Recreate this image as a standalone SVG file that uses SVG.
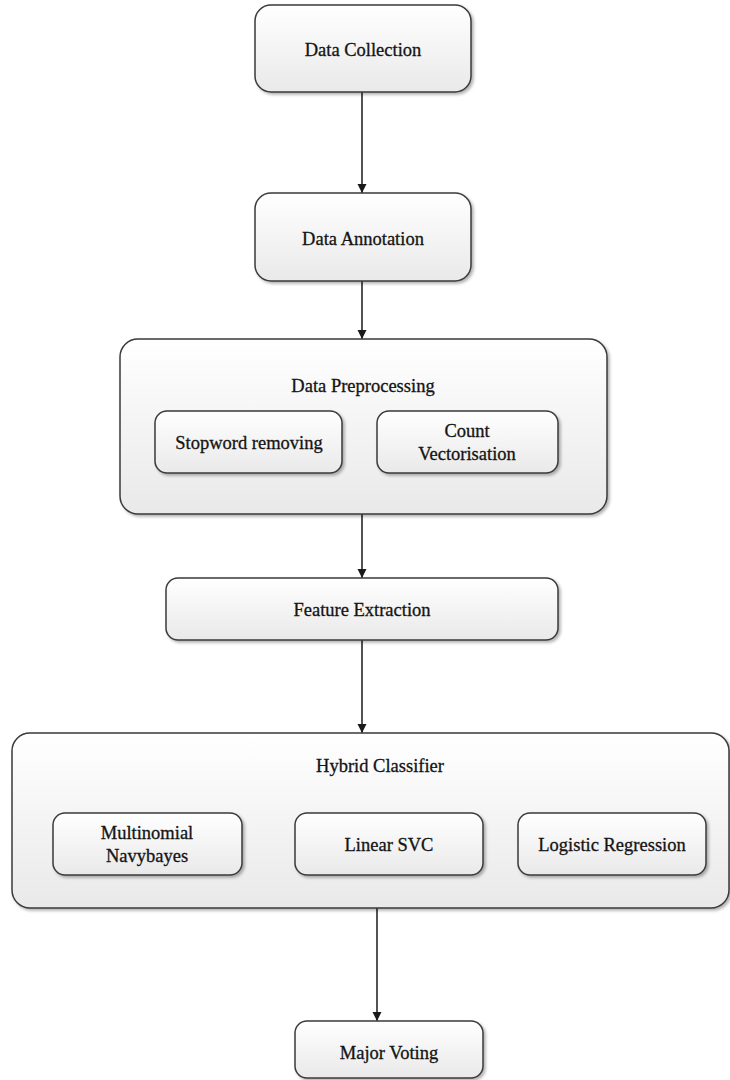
<svg xmlns="http://www.w3.org/2000/svg" width="730" height="1080" viewBox="0 0 730 1080">
  <defs>
    <linearGradient id="boxFill" x1="0" y1="0" x2="0" y2="1">
      <stop offset="0" stop-color="#ffffff"/>
      <stop offset="1" stop-color="#e9e9e9"/>
    </linearGradient>
    <filter id="shadow" x="-5%" y="-5%" width="115%" height="120%">
      <feDropShadow dx="2" dy="2" stdDeviation="1.5" flood-color="#000" flood-opacity="0.3"/>
    </filter>
    <marker id="arrow" markerWidth="10" markerHeight="10" refX="9" refY="5" orient="auto" markerUnits="userSpaceOnUse">
      <path d="M0,0.5 L9,5 L0,9.5 Z" fill="#1a1a1a"/>
    </marker>
  </defs>
  <style>
    .box { fill: url(#boxFill); stroke: #3a3a3a; stroke-width: 1.5; filter: url(#shadow); }
    .label { font-family: "Liberation Serif", "Times New Roman", serif; font-size: 18.5px; fill: #141414; stroke: #141414; stroke-width: 0.3; text-anchor: middle; }
    .conn { stroke: #1a1a1a; stroke-width: 1.5; fill: none; marker-end: url(#arrow); }
  </style>
  <rect width="730" height="1080" fill="#ffffff"/>

  <!-- connectors -->
  <g id="connectors">
    <line class="conn" x1="362" y1="92" x2="362" y2="193"/>
    <line class="conn" x1="362" y1="281" x2="362" y2="339"/>
    <line class="conn" x1="362" y1="514" x2="362" y2="578"/>
    <line class="conn" x1="362" y1="640" x2="362" y2="733"/>
    <line class="conn" x1="377" y1="908" x2="377" y2="1021"/>
  </g>

  <g id="data-collection">
    <rect class="box" x="255" y="5" width="216" height="87" rx="16"/>
    <text class="label" x="363" y="56">Data Collection</text>
  </g>

  <g id="data-annotation">
    <rect class="box" x="255" y="193" width="216" height="88" rx="16"/>
    <text class="label" x="363" y="245">Data Annotation</text>
  </g>

  <g id="data-preprocessing">
    <rect class="box" x="120" y="339" width="487" height="175" rx="18"/>
    <text class="label" x="363" y="392">Data Preprocessing</text>
    <g id="stopword-removing">
      <rect class="box" x="155" y="411" width="187" height="62" rx="12"/>
      <text class="label" x="249" y="449">Stopword removing</text>
    </g>
    <g id="count-vectorisation">
      <rect class="box" x="377" y="411" width="181" height="62" rx="12"/>
      <text class="label" x="467" y="437">Count</text>
      <text class="label" x="467" y="460">Vectorisation</text>
    </g>
  </g>

  <g id="feature-extraction">
    <rect class="box" x="166" y="578" width="392" height="62" rx="12"/>
    <text class="label" x="362" y="616">Feature Extraction</text>
  </g>

  <g id="hybrid-classifier">
    <rect class="box" x="12" y="733" width="717" height="175" rx="18"/>
    <text class="label" x="380" y="772">Hybrid Classifier</text>
    <g id="multinomial-navybayes">
      <rect class="box" x="53" y="813" width="189" height="62" rx="12"/>
      <text class="label" x="147" y="839">Multinomial</text>
      <text class="label" x="147" y="862">Navybayes</text>
    </g>
    <g id="linear-svc">
      <rect class="box" x="295" y="813" width="188" height="62" rx="12"/>
      <text class="label" x="389" y="851">Linear SVC</text>
    </g>
    <g id="logistic-regression">
      <rect class="box" x="518" y="813" width="188" height="62" rx="12"/>
      <text class="label" x="612" y="851">Logistic Regression</text>
    </g>
  </g>

  <g id="major-voting">
    <rect class="box" x="295" y="1021" width="188" height="57" rx="12"/>
    <text class="label" x="389" y="1059">Major Voting</text>
  </g>
</svg>
